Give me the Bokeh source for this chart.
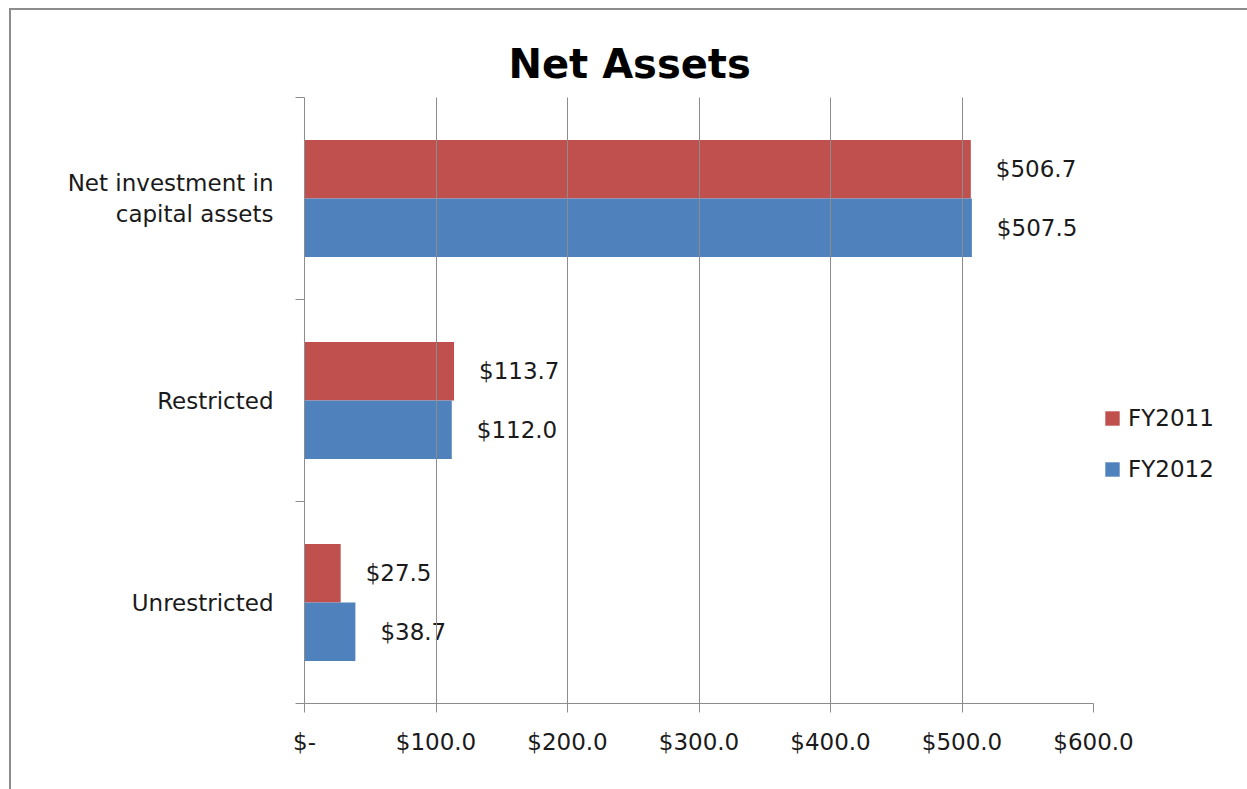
from bokeh.plotting import figure
from bokeh.models import (FixedTicker, Legend, LegendItem, ColumnDataSource, Title)
from bokeh.core.properties import value
from bokeh.embed import file_html
from bokeh.resources import INLINE

# ---- data ----
categories = ["Unrestricted", "Restricted", "Net investment in\ncapital assets"]
fy2011 = [27.5, 113.7, 506.7]
fy2012 = [38.7, 112.0, 507.5]
series_names = ["FY2011", "FY2012"]
x_ticks = [0, 100, 200, 300, 400, 500, 600]
x_tick_labels = ["$-", "$100.0", "$200.0", "$300.0", "$400.0", "$500.0", "$600.0"]

RED = "#C0504D"
BLUE = "#4F81BD"
GRID = "#8C8C8C"
FONT = "DejaVu Sans"

pos = list(range(len(categories)))
off = 0.145
src11 = ColumnDataSource(dict(y=[p_ + off for p_ in pos], v=fy2011,
                              lab=["$%.1f" % v for v in fy2011]))
src12 = ColumnDataSource(dict(y=[p_ - off for p_ in pos], v=fy2012,
                              lab=["$%.1f" % v for v in fy2012]))

p = figure(frame_width=789, frame_height=606, x_range=(0, 600), y_range=(-0.5, 2.5),
           output_backend="svg", toolbar_location=None,
           min_border_left=293, min_border_right=10,
           min_border_top=87, min_border_bottom=86)
p.margin = (8, 0, 0, 9)
p.styles = {"border-left": "2px solid #8C8C8C", "border-top": "2px solid #8C8C8C"}
p.outline_line_color = None
p.background_fill_color = "white"

t = Title(text="Net Assets", align="left", text_font=FONT,
          text_font_size="40px", text_font_style="bold", text_color="black",
          standoff=22, offset=204)
p.add_layout(t, "above")

r11 = p.hbar(y="y", right="v", left=0, height=0.29, source=src11,
             fill_color=RED, line_color=None)
r12 = p.hbar(y="y", right="v", left=0, height=0.29, source=src12,
             fill_color=BLUE, line_color=None)

for s in (src11, src12):
    p.text(x="v", y="y", text="lab", source=s, x_offset=25,
           text_baseline="middle", text_align="left",
           text_font=value(FONT), text_font_size="23px", text_color="#1a1a1a")

# grid
p.ygrid.grid_line_color = None
p.xgrid.grid_line_color = GRID
p.xgrid.grid_line_width = 1
p.xgrid.level = "overlay"

# x axis
p.xaxis.ticker = FixedTicker(ticks=x_ticks)
p.xaxis.major_label_overrides = {t_: l for t_, l in zip(x_ticks, x_tick_labels)}
p.xaxis.axis_line_color = GRID
p.xaxis.major_tick_line_color = GRID
p.xaxis.major_tick_out = 9
p.xaxis.major_tick_in = 0
p.xaxis.minor_tick_line_color = None
p.xaxis.major_label_text_font = FONT
p.xaxis.major_label_text_font_size = "23px"
p.xaxis.major_label_text_color = "#1a1a1a"
p.xaxis.major_label_standoff = 16

# y axis
p.yaxis.ticker = FixedTicker(ticks=pos, minor_ticks=[-0.5, 0.5, 1.5, 2.5])
p.yaxis.major_label_overrides = {i: c for i, c in enumerate(categories)}
p.yaxis.axis_line_color = GRID
p.yaxis.major_tick_line_color = None
p.yaxis.major_tick_out = 0
p.yaxis.major_tick_in = 0
p.yaxis.minor_tick_line_color = GRID
p.yaxis.minor_tick_out = 9
p.yaxis.minor_tick_in = 0
p.yaxis.major_label_text_font = FONT
p.yaxis.major_label_text_font_size = "23px"
p.yaxis.major_label_text_color = "#1a1a1a"
p.yaxis.major_label_standoff = 22
p.yaxis.major_label_text_align = "right"

legend = Legend(items=[LegendItem(label=series_names[0], renderers=[r11]),
                       LegendItem(label=series_names[1], renderers=[r12])],
                location=(10, 221), border_line_color=None,
                background_fill_alpha=0, glyph_width=18, glyph_height=18,
                label_text_font=FONT, label_text_font_size="23px",
                label_text_color="#1a1a1a", spacing=25, padding=0, margin=0,
                label_standoff=7)
p.add_layout(legend, "right")

open("out.html", "w").write(file_html(p, INLINE))
